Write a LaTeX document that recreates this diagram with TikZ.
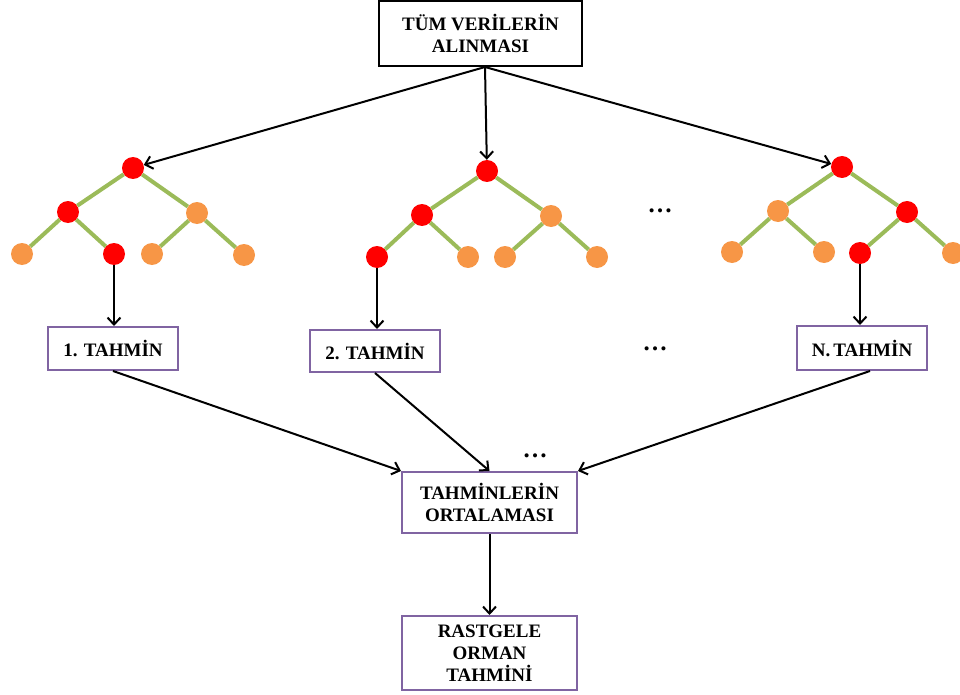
\documentclass[tikz,border=0pt]{standalone}
\usepackage{fontspec}
\setmainfont{Liberation Serif}
\usetikzlibrary{arrows.meta}

\definecolor{leafred}{HTML}{FF0000}
\definecolor{leaforange}{HTML}{F79646}
\definecolor{branchgreen}{HTML}{9BBB59}
\definecolor{boxpurple}{HTML}{8064A2}

\tikzset{
	rednode/.style={shape=circle, fill=leafred, minimum size=22pt, inner sep=0pt},
	orangenode/.style={shape=circle, fill=leaforange, minimum size=22pt, inner sep=0pt},
	branch/.style={draw=branchgreen, line width=4pt},
	boxnode/.style={draw=boxpurple, line width=2pt, align=center, inner sep=0pt, font=\bfseries\fontsize{19}{22}\selectfont},
	arr/.style={draw, line width=2pt, -{Straight Barb[length=7pt,width=13pt]}},
	dotsnode/.style={anchor=base, inner sep=0pt, font=\bfseries\fontsize{25}{25}\selectfont}
}

\begin{document}
\begin{tikzpicture}[x=1pt, y=-1pt]
	\clip (0,0) rectangle (960,695);

	% boxes
	\node[boxnode, draw=black, minimum width=203pt, minimum height=65pt] (top) at (480.5,33.5) {TÜM VERİLERİN\\ALINMASI};
	\node[boxnode, minimum width=130pt, minimum height=43pt] (p1) at (113,348.5) {1. TAHMİN};
	\node[boxnode, minimum width=130pt, minimum height=42pt] (p2) at (375,351) {2. TAHMİN};
	\node[boxnode, minimum width=130pt, minimum height=44pt] (pN) at (862,348) {N.\,TAHMİN};
	\node[boxnode, minimum width=175pt, minimum height=61pt] (avg) at (489.5,502.5) {TAHMİNLERİN\\ORTALAMASI};
	\node[boxnode, minimum width=175pt, minimum height=74pt] (rf) at (489.5,653) {RASTGELE\\ORMAN\\TAHMİNİ};

	% tree 1
	\node[rednode] (a1) at (133,168) {};
	\node[rednode] (a2) at (68,212) {};
	\node[orangenode] (a3) at (197,213) {};
	\node[orangenode] (a4) at (22,254) {};
	\node[rednode] (a5) at (114,254) {};
	\node[orangenode] (a6) at (152,254) {};
	\node[orangenode] (a7) at (244,255) {};

	% tree 2
	\node[rednode] (b1) at (487,171) {};
	\node[rednode] (b2) at (422,215) {};
	\node[orangenode] (b3) at (551,216) {};
	\node[rednode] (b4) at (377,257) {};
	\node[orangenode] (b5) at (468,257) {};
	\node[orangenode] (b6) at (505,257) {};
	\node[orangenode] (b7) at (597,257) {};

	% tree N
	\node[rednode] (c1) at (842,167) {};
	\node[orangenode] (c2) at (778,211) {};
	\node[rednode] (c3) at (907,212) {};
	\node[orangenode] (c4) at (732,252) {};
	\node[orangenode] (c5) at (824,252) {};
	\node[rednode] (c6) at (860,253) {};
	\node[orangenode] (c7) at (953,253) {};

	\path (a1) edge[branch] (a2) (a1) edge[branch] (a3) (a2) edge[branch] (a4) (a2) edge[branch] (a5) (a3) edge[branch] (a6) (a3) edge[branch] (a7);
	\path (b1) edge[branch] (b2) (b1) edge[branch] (b3) (b2) edge[branch] (b4) (b2) edge[branch] (b5) (b3) edge[branch] (b6) (b3) edge[branch] (b7);
	\path (c1) edge[branch] (c2) (c1) edge[branch] (c3) (c2) edge[branch] (c4) (c2) edge[branch] (c5) (c3) edge[branch] (c6) (c3) edge[branch] (c7);

	% dots
	\node[dotsnode] (d1) at (660,212) {…};
	\node[dotsnode] (d2) at (655,350) {…};
	\node[dotsnode] (d3) at (535,457) {…};

	% arrows
	\coordinate (src) at ([xshift=4.5pt]top.south);
	\path (src) edge[arr] (a1);
	\path (src) edge[arr] (b1);
	\path (src) edge[arr] (c1);
	\path (a5) edge[arr] (a5 |- p1.north);
	\path (b4) edge[arr] (b4 |- p2.north);
	\path (c6) edge[arr] (c6 |- pN.north);
	\path (p1.south) edge[arr] (avg.north west);
	\path (p2.south) edge[arr] (avg.north);
	\path ([xshift=8pt]pN.south) edge[arr] (avg.north east);
	\path (avg.south) edge[arr] (rf.north);
\end{tikzpicture}
\end{document}
